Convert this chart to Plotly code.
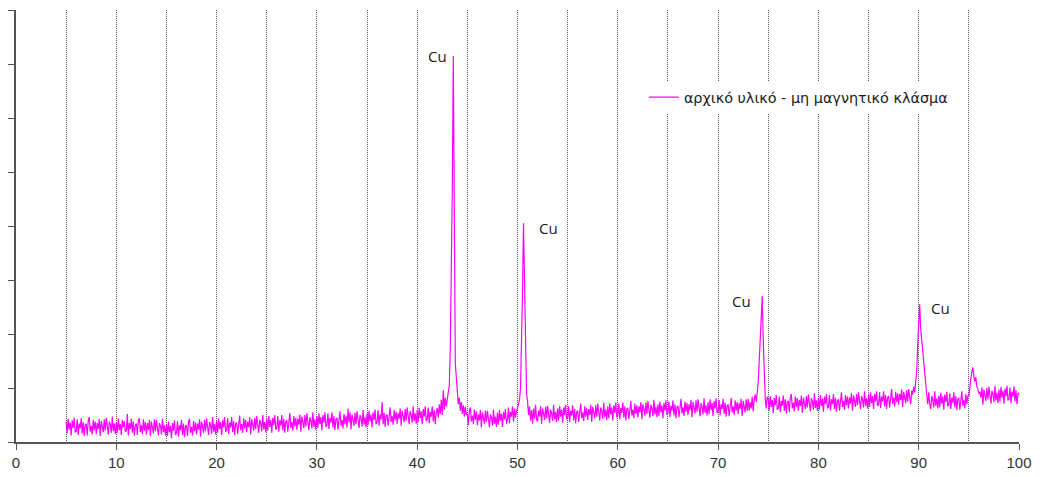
import plotly.graph_objects as go

# Diffraction pattern: intensity values sampled every 0.1 degree starting at 5.0 (2-theta)
start_2theta = 5.0
step_2theta = 0.1
intensity = [
    0.38,0.16,0.43,0.23,0.36,0.12,0.40,0.26,0.45,0.18,
    0.20,0.42,0.13,0.34,0.25,0.44,0.16,0.37,0.11,0.32,
    0.33,0.12,0.39,0.46,0.19,0.30,0.14,0.41,0.22,0.38,
    0.15,0.35,0.24,0.43,0.11,0.39,0.29,0.18,0.42,0.21,
    0.45,0.23,0.14,0.38,0.32,0.17,0.47,0.20,0.34,0.15,
    0.36,0.17,0.44,0.22,0.33,0.13,0.41,0.27,0.39,0.19,
    0.21,0.52,0.12,0.35,0.24,0.43,0.17,0.38,0.12,0.31,
    0.34,0.13,0.40,0.44,0.18,0.31,0.15,0.42,0.21,0.37,
    0.14,0.35,0.22,0.41,0.11,0.38,0.27,0.16,0.42,0.20,
    0.41,0.21,0.12,0.35,0.30,0.14,0.43,0.18,0.31,0.12,
    0.33,0.11,0.38,0.18,0.30,0.07,0.35,0.21,0.40,0.13,
    0.17,0.39,0.10,0.31,0.22,0.41,0.13,0.34,0.09,0.29,
    0.31,0.11,0.37,0.43,0.17,0.28,0.12,0.39,0.20,0.36,
    0.14,0.34,0.23,0.42,0.10,0.38,0.28,0.17,0.41,0.20,
    0.44,0.22,0.13,0.37,0.31,0.16,0.46,0.19,0.33,0.14,
    0.39,0.17,0.44,0.24,0.37,0.13,0.41,0.27,0.46,0.19,
    0.22,0.44,0.15,0.36,0.27,0.46,0.18,0.39,0.13,0.34,
    0.36,0.15,0.42,0.49,0.22,0.33,0.17,0.44,0.25,0.41,
    0.18,0.38,0.27,0.46,0.14,0.42,0.32,0.21,0.45,0.24,
    0.48,0.26,0.17,0.41,0.35,0.20,0.50,0.23,0.37,0.18,
    0.43,0.21,0.48,0.28,0.41,0.17,0.45,0.31,0.50,0.23,
    0.26,0.48,0.19,0.40,0.31,0.50,0.22,0.43,0.17,0.38,
    0.40,0.19,0.46,0.53,0.26,0.37,0.21,0.48,0.29,0.45,
    0.23,0.43,0.32,0.51,0.19,0.47,0.37,0.26,0.50,0.29,
    0.53,0.31,0.22,0.46,0.40,0.25,0.55,0.28,0.42,0.23,
    0.48,0.26,0.53,0.33,0.46,0.22,0.50,0.36,0.55,0.28,
    0.31,0.53,0.24,0.45,0.36,0.55,0.27,0.48,0.22,0.43,
    0.44,0.23,0.50,0.57,0.30,0.41,0.25,0.52,0.33,0.49,
    0.27,0.62,0.36,0.55,0.23,0.51,0.41,0.30,0.54,0.33,
    0.57,0.35,0.26,0.50,0.44,0.29,0.59,0.32,0.46,0.27,
    0.53,0.31,0.58,0.38,0.51,0.27,0.55,0.41,0.60,0.33,
    0.37,0.59,0.30,0.51,0.42,0.74,0.33,0.54,0.28,0.49,
    0.51,0.30,0.57,0.64,0.37,0.48,0.32,0.59,0.40,0.56,
    0.34,0.54,0.43,0.62,0.30,0.58,0.48,0.37,0.61,0.40,
    0.64,0.42,0.33,0.57,0.51,0.36,0.66,0.39,0.53,0.34,
    0.59,0.37,0.64,0.44,0.57,0.33,0.61,0.47,0.66,0.39,
    0.42,0.64,0.35,0.56,0.47,0.66,0.38,0.59,0.33,0.54,
    0.63,0.45,0.70,0.52,0.78,0.50,0.96,0.60,0.82,0.66,
    0.80,0.92,1.05,1.75,3.00,4.70,7.15,4.50,1.45,1.20,
    0.95,0.70,0.82,0.58,0.74,0.52,0.68,0.47,0.65,0.50,
    0.52,0.31,0.58,0.64,0.38,0.49,0.33,0.60,0.41,0.57,
    0.31,0.51,0.40,0.59,0.27,0.55,0.45,0.34,0.58,0.37,
    0.58,0.36,0.27,0.51,0.45,0.30,0.60,0.33,0.47,0.28,
    0.54,0.32,0.59,0.39,0.52,0.28,0.56,0.42,0.61,0.34,
    0.42,0.64,0.35,0.56,0.47,0.66,0.38,0.62,0.45,0.58,
    0.62,0.70,0.78,1.00,1.80,2.80,4.05,2.70,1.30,0.90,
    0.76,0.50,0.66,0.40,0.59,0.34,0.62,0.43,0.69,0.42,
    0.38,0.58,0.47,0.66,0.34,0.62,0.52,0.41,0.65,0.44,
    0.67,0.45,0.36,0.60,0.54,0.39,0.69,0.42,0.56,0.37,
    0.62,0.40,0.67,0.47,0.60,0.36,0.64,0.50,0.69,0.42,
    0.44,0.66,0.37,0.58,0.49,0.68,0.40,0.61,0.35,0.56,
    0.58,0.37,0.64,0.71,0.44,0.55,0.39,0.66,0.47,0.63,
    0.41,0.61,0.50,0.69,0.37,0.65,0.55,0.44,0.68,0.47,
    0.71,0.49,0.40,0.64,0.58,0.43,0.73,0.46,0.60,0.41,
    0.66,0.44,0.71,0.51,0.64,0.40,0.68,0.54,0.73,0.46,
    0.49,0.71,0.42,0.63,0.54,0.73,0.45,0.66,0.40,0.61,
    0.63,0.42,0.69,0.76,0.49,0.60,0.44,0.71,0.52,0.68,
    0.46,0.66,0.55,0.74,0.42,0.70,0.60,0.49,0.73,0.52,
    0.76,0.54,0.45,0.69,0.63,0.48,0.78,0.51,0.65,0.46,
    0.70,0.48,0.75,0.55,0.68,0.44,0.72,0.58,0.77,0.50,
    0.53,0.75,0.46,0.67,0.58,0.77,0.49,0.70,0.44,0.65,
    0.67,0.46,0.73,0.80,0.53,0.64,0.48,0.75,0.56,0.72,
    0.50,0.70,0.59,0.78,0.46,0.74,0.64,0.53,0.77,0.56,
    0.79,0.57,0.48,0.72,0.66,0.51,0.81,0.54,0.68,0.49,
    0.74,0.52,0.79,0.59,0.72,0.48,0.76,0.62,0.81,0.54,
    0.56,0.78,0.49,0.70,0.61,0.80,0.52,0.73,0.47,0.68,
    0.69,0.48,0.75,0.82,0.55,0.66,0.50,0.77,0.58,0.74,
    0.52,0.72,0.61,0.80,0.48,0.76,0.66,0.55,0.79,0.58,
    0.80,0.58,0.74,0.62,0.84,0.57,0.78,0.88,0.74,0.92,
    1.10,1.50,1.95,2.10,2.70,1.90,1.15,0.80,0.62,0.84,
    0.80,0.58,0.85,0.65,0.78,0.54,0.82,0.68,0.87,0.60,
    0.62,0.84,0.55,0.76,0.67,0.86,0.58,0.79,0.53,0.74,
    0.76,0.55,0.82,0.89,0.62,0.73,0.57,0.84,0.65,0.81,
    0.58,0.78,0.67,0.86,0.54,0.82,0.72,0.61,0.85,0.64,
    0.88,0.66,0.57,0.81,0.75,0.60,0.90,0.63,0.77,0.58,
    0.82,0.60,0.87,0.67,0.80,0.56,0.84,0.70,0.89,0.62,
    0.65,0.87,0.58,0.79,0.70,0.89,0.61,0.82,0.56,0.77,
    0.79,0.58,0.85,0.92,0.65,0.76,0.60,0.87,0.68,0.84,
    0.62,0.82,0.71,0.90,0.58,0.86,0.76,0.65,0.89,0.68,
    0.92,0.70,0.61,0.85,0.79,0.64,0.94,0.67,0.81,0.62,
    0.87,0.65,0.92,0.72,0.85,0.61,0.89,0.75,0.94,0.67,
    0.70,0.92,0.63,0.84,0.75,0.94,0.66,0.87,0.61,0.82,
    0.85,0.64,0.91,0.98,0.71,0.82,0.66,0.93,0.74,0.90,
    0.69,0.89,0.78,0.97,0.65,0.93,0.83,0.72,0.96,0.75,
    0.98,0.76,0.70,0.95,0.88,1.02,0.92,1.12,1.30,1.80,
    2.30,2.55,2.10,1.90,1.60,1.35,1.15,1.00,0.88,0.70,
    0.92,0.70,0.61,0.85,0.79,0.64,0.94,0.67,0.81,0.62,
    0.86,0.64,0.91,0.71,0.84,0.60,0.88,0.74,0.93,0.66,
    0.68,0.90,0.61,0.82,0.73,0.92,0.64,0.85,0.59,0.80,
    0.81,0.60,0.87,0.94,0.67,0.78,0.62,0.89,0.70,0.86,
    0.84,1.05,1.18,1.30,1.38,1.22,1.12,1.20,1.02,0.98,
    0.90,0.93,0.82,1.01,0.69,0.97,0.87,0.76,1.00,0.79,
    1.02,0.80,0.71,0.95,0.89,0.74,1.04,0.77,0.91,0.72,
    0.97,0.75,1.02,0.82,0.95,0.71,0.99,0.85,1.04,0.77,
    0.79,1.01,0.72,0.93,0.84,1.03,0.75,0.96,0.70,0.91,
    0.88,
]

series_name = "αρχικό υλικό - μη μαγνητικό κλάσμα"

# Peak labels
label_text = ["Cu", "Cu", "Cu", "Cu"]
label_x = [42.0, 53.1, 72.3, 92.2]
label_y = [7.15, 3.96, 2.61, 2.48]

x_tick_values = [0, 10, 20, 30, 40, 50, 60, 70, 80, 90, 100]

fig = go.Figure()
fig.add_trace(go.Scatter(
    x0=start_2theta, dx=step_2theta, y=intensity,
    mode="lines", name=series_name,
    line=dict(color="#ff00ff", width=1.2),
))

for t, lx, ly in zip(label_text, label_x, label_y):
    fig.add_annotation(x=lx, y=ly, text=t, showarrow=False, xref="x", yref="y",
                       font=dict(family="Open Sans", size=15, color="#1a1a1a"))

grid_col = "#555555"
fig.update_layout(
    width=1042, height=477,
    margin=dict(l=16, r=23, t=10, b=35),
    paper_bgcolor="white", plot_bgcolor="white",
    showlegend=True,
    legend=dict(x=0.626, y=0.835, xanchor="left", yanchor="top",
                bgcolor="white", borderwidth=0,
                font=dict(family="DejaVu Sans", size=14.4, color="#1a1a1a")),
    xaxis=dict(range=[0, 100], tickvals=x_tick_values, ticks="outside", ticklen=6,
               tickcolor="#555", showline=True, linecolor="#555", linewidth=1.5,
               showgrid=True, gridcolor=grid_col, griddash="1px,1px", gridwidth=1,
               zeroline=False, automargin=False,
               minor=dict(dtick=5, tick0=0, showgrid=True, gridcolor=grid_col,
                          griddash="1px,1px", ticks=""),
               tickfont=dict(family="Liberation Sans", size=15, color="#333")),
    yaxis=dict(range=[0, 8], dtick=1, ticks="outside", ticklen=6, tickcolor="#555",
               showline=True, linecolor="#555", linewidth=1.5, showgrid=False,
               zeroline=False, showticklabels=False, automargin=False),
)

fig.write_html("out.html")
